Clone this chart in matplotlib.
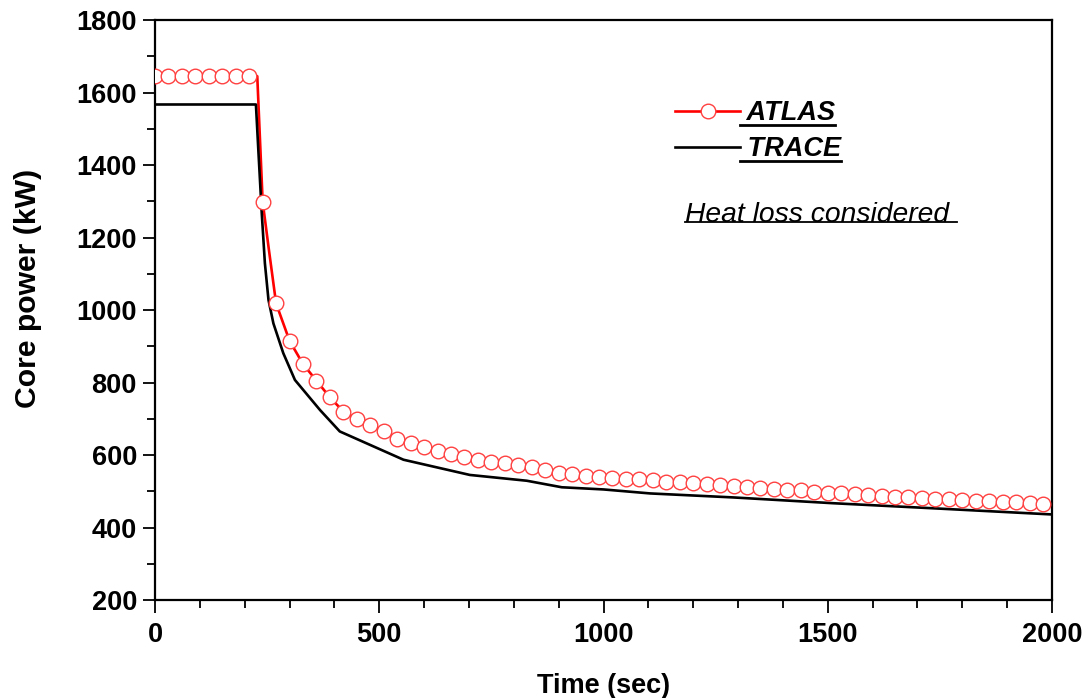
from matplotlib import pyplot as plt
from matplotlib.lines import Line2D
from matplotlib.ticker import MultipleLocator

plt.rcParams['font.family'] = ['Liberation Sans', 'DejaVu Sans']

# ATLAS: measured points (every 30 s, drawn as circles)
atlas_t = [0, 30, 60, 90, 120, 150, 180, 210,
           240, 270, 300, 330, 360, 390, 420, 450, 480, 510, 540, 570,
           600, 630, 660, 690, 720, 750, 780, 810, 840, 870, 900, 930,
           960, 990, 1020, 1050, 1080, 1110, 1140, 1170, 1200, 1230,
           1260, 1290, 1320, 1350, 1380, 1410, 1440, 1470, 1500, 1530,
           1560, 1590, 1620, 1650, 1680, 1710, 1740, 1770, 1800, 1830,
           1860, 1890, 1920, 1950, 1980]
atlas_p = [1645, 1645, 1645, 1645, 1645, 1645, 1645, 1645,
           1299, 1018, 915, 851, 805, 759, 720, 699, 682, 667, 643, 632,
           623, 612, 603, 594, 586, 582, 577, 572, 568, 560, 551, 547,
           543, 540, 537, 535, 533, 531, 526, 525, 522, 519,
           516, 514, 513, 509, 506, 504, 503, 499, 496, 494,
           492, 490, 488, 485, 483, 481, 479, 478, 476, 474,
           472, 470, 469, 467, 465]

# extra line points where the ATLAS curve drops
atlas_drop_t = [228, 253]
atlas_drop_p = [1645, 1175]

# TRACE calculation
trace_t = [0, 225, 230, 234, 238, 245, 253, 264, 286, 312, 368, 412,
           554, 702, 829, 907, 1000, 1104, 1289, 1512, 1735, 2000]
trace_p = [1567, 1567, 1450, 1359, 1267, 1129, 1028, 963, 881, 807, 724, 665,
           587, 545, 529, 511, 505, 494, 483, 467, 453, 436]

# line through the ATLAS data, including the drop points
line_pts = sorted(zip(atlas_t + atlas_drop_t, atlas_p + atlas_drop_p))
line_t = [p[0] for p in line_pts]
line_p = [p[1] for p in line_pts]

fig = plt.figure(figsize=(10.87, 6.98), dpi=100)
ax = fig.add_axes([0.1426, 0.1404, 0.8252, 0.8309])

red = '#ff0000'
ax.plot(line_t, line_p, color=red, lw=1.9, zorder=2)
ax.plot(atlas_t, atlas_p, ls='none', marker='o', ms=10.5, mfc='white',
        mec='#ff4040', mew=1.0, zorder=3)
ax.plot(trace_t, trace_p, color='black', lw=1.9, zorder=2)

# legend handles
h_atlas = Line2D([], [], color=red, lw=1.9, marker='o', ms=10.5,
                 mfc='white', mec='#ff4040', mew=1.0)
h_trace = Line2D([], [], color='black', lw=1.9)
leg = ax.legend([h_atlas, h_trace], [' ATLAS', ' TRACE'], loc='upper left',
                bbox_to_anchor=(0.58, 0.862), frameon=False,
                handlelength=2.4, handletextpad=0.0, labelspacing=0.38,
                borderpad=0, borderaxespad=0,
                prop=dict(size=19.5, weight='bold', style='italic'))

note = ax.text(0.591, 0.652, 'Heat loss considered ', transform=ax.transAxes,
               fontsize=20.3, style='italic', ha='left', va='baseline')

ax.set_xlim(0, 2000)
ax.set_ylim(200, 1800)
ax.xaxis.set_major_locator(MultipleLocator(500))
ax.xaxis.set_minor_locator(MultipleLocator(100))
ax.yaxis.set_major_locator(MultipleLocator(200))
ax.yaxis.set_minor_locator(MultipleLocator(100))

ax.tick_params(which='both', direction='out', width=1.3, top=False, right=False)
ax.tick_params(which='major', length=9, labelsize=19.5, pad=4)
ax.tick_params(axis='x', which='major', pad=7)
ax.tick_params(which='minor', length=5.5)
for lab in ax.get_xticklabels() + ax.get_yticklabels():
    lab.set_fontweight('bold')
for sp in ax.spines.values():
    sp.set_linewidth(1.6)

ax.set_xlabel('Time (sec)', fontsize=19.5, fontweight='bold', labelpad=18)
ax.set_ylabel('Core power (kW)', fontsize=21.7, fontweight='bold')
ax.yaxis.set_label_coords(-0.126, 0.538)

# underline the legend labels and the note
fig.canvas.draw()
inv = fig.transFigure.inverted()
for t in list(leg.get_texts()) + [note]:
    bb = t.get_window_extent()
    (x0, y0), (x1, _) = inv.transform([[bb.x0, bb.y0], [bb.x1, bb.y1]])
    if t is note:
        y0 = inv.transform([[0, bb.y0 + t.get_fontsize() * 0.23]])[0][1]
        lw = 1.3
    else:
        lw = 2.0
    fig.add_artist(Line2D([x0, x1], [y0 + 0.002, y0 + 0.002],
                          transform=fig.transFigure, color='black', lw=lw))

fig.savefig('out.png', dpi=100)
